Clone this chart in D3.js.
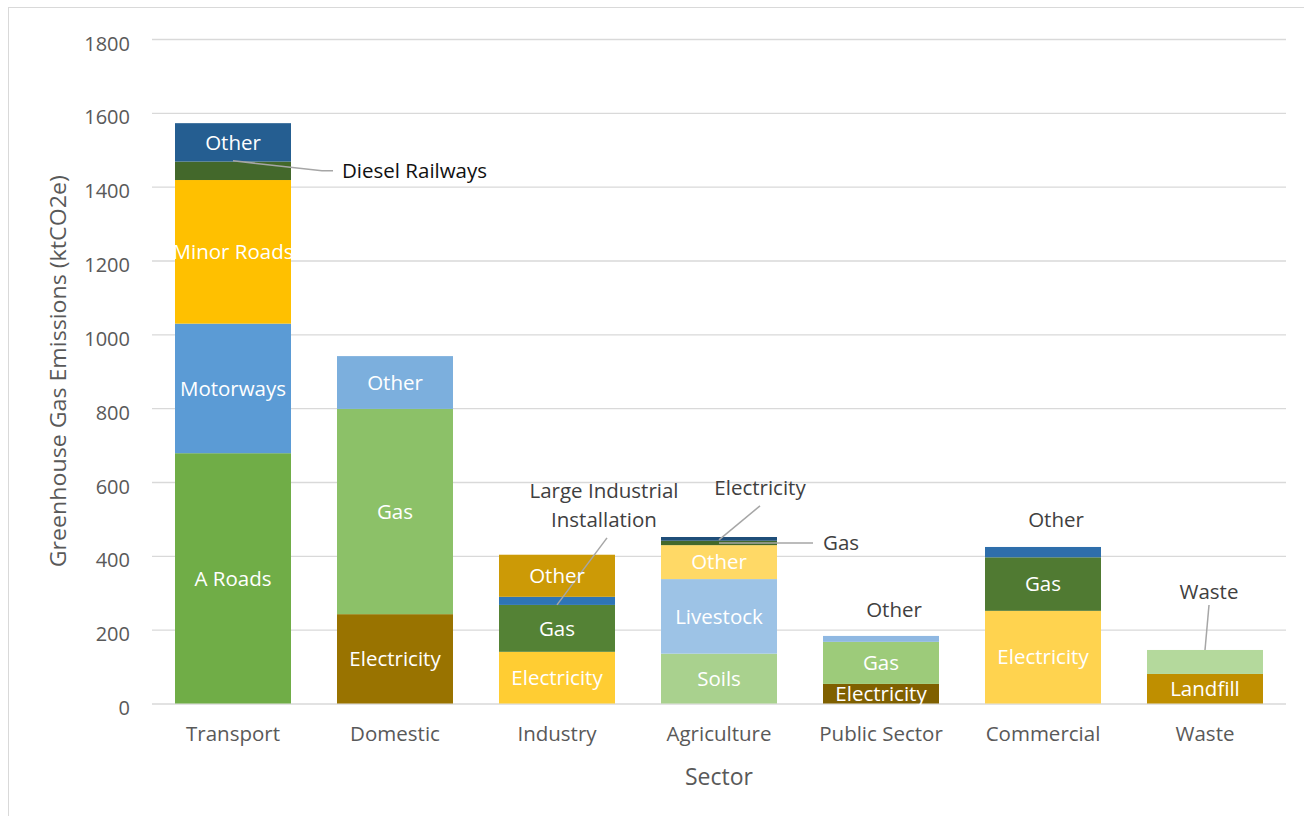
<!DOCTYPE html>
<html lang="en">
<head>
<meta charset="utf-8">
<title>Greenhouse Gas Emissions by Sector</title>
<script src="https://d3js.org/d3.v7.min.js"></script>
<style>
  body { margin: 0; background: #fff; }
  svg { display: block; }
  text { font-family: "Open Sans", sans-serif; }
</style>
</head>
<body>
<svg id="chart" width="1304" height="816"></svg>
<script>
// ---- data ----
const sectors = ["Transport", "Domestic", "Industry", "Agriculture", "Public Sector", "Commercial", "Waste"];

const transportParts = ["A Roads", "Motorways", "Minor Roads", "Diesel Railways", "Other"];
const transportValues = [678, 351, 389, 50, 104];

const domesticParts = ["Electricity", "Gas", "Other"];
const domesticValues = [242, 556, 143];

const industryParts = ["Electricity", "Gas", "Large Industrial Installation", "Other"];
const industryValues = [140, 127, 22, 114];

const agricultureParts = ["Soils", "Livestock", "Other", "Gas", "Electricity"];
const agricultureValues = [135, 202, 92, 12, 10];

const publicParts = ["Electricity", "Gas", "Other"];
const publicValues = [53, 114, 16];

const commercialParts = ["Electricity", "Gas", "Other"];
const commercialValues = [251, 145, 28];

const wasteParts = ["Landfill", "Waste"];
const wasteValues = [80, 65];

const yTicks = [0, 200, 400, 600, 800, 1000, 1200, 1400, 1600, 1800];

// ---- styles ----
const partColors = {
  "Transport":     ["#70ad47", "#5b9bd5", "#ffc000", "#43682b", "#255e91"],
  "Domestic":      ["#997300", "#8cc168", "#7cafdd"],
  "Industry":      ["#ffcd33", "#548235", "#2e75b6", "#cc9a06"],
  "Agriculture":   ["#a9d18e", "#9dc3e6", "#ffd966", "#43682b", "#1f4e79"],
  "Public Sector": ["#7f6000", "#9dcb7a", "#8fb8e2"],
  "Commercial":    ["#ffd34f", "#507a32", "#2e6eab"],
  "Waste":         ["#bf8f00", "#b4d99c"]
};

const stacks = [
  [transportParts, transportValues],
  [domesticParts, domesticValues],
  [industryParts, industryValues],
  [agricultureParts, agricultureValues],
  [publicParts, publicValues],
  [commercialParts, commercialValues],
  [wasteParts, wasteValues]
];

// segments too thin get an outside callout instead of an inside label
// dx/dy = offset of the first text line from the segment centre
const calloutParts = {
  "Transport|Diesel Railways": {lines: ["Diesel Railways"], dx: 109, dy: 0, anchor: "start", fill: "#111", path: [[0, -10], [89, 0], [100, 0]]},
  "Industry|Large Industrial Installation": {lines: ["Large Industrial", "Installation"], dx: 47, dy: -110, anchor: "middle", path: [[0, 4], [50, -63]]},
  "Agriculture|Electricity": {lines: ["Electricity"], dx: 41, dy: -51, anchor: "middle", path: [[0, 1], [41, -33]]},
  "Agriculture|Gas": {lines: ["Gas"], dx: 104, dy: 0, anchor: "start", path: [[0, 0], [94, 0]]},
  "Public Sector|Other": {lines: ["Other"], dx: 13, dy: -29, anchor: "middle"},
  "Commercial|Other": {lines: ["Other"], dx: 13, dy: -32, anchor: "middle"},
  "Waste|Waste": {lines: ["Waste"], dx: 4, dy: -70, anchor: "middle", path: [[0, -12], [4, -57]]}
};

const svg = d3.select("#chart");

// outer chart border
svg.append("rect")
  .attr("x", 8.5).attr("y", 7.5)
  .attr("width", 1310).attr("height", 820)
  .attr("fill", "none").attr("stroke", "#d9d9d9");

const plotLeft = 152, plotRight = 1286, plotTop = 39, plotBottom = 703.5;

const x = d3.scaleBand()
  .domain(sectors)
  .range([plotLeft, plotRight])
  .paddingInner(0.284)
  .paddingOuter(0.142);

const y = d3.scaleLinear()
  .domain([0, 1800])
  .range([plotBottom, plotTop]);

// gridlines + y tick labels
const yAxis = d3.axisLeft(y)
  .tickValues(yTicks)
  .tickFormat(d3.format("d"))
  .tickSize(-(plotRight - plotLeft))
  .tickPadding(22);
const gy = svg.append("g").attr("transform", `translate(${plotLeft},0)`).call(yAxis);
gy.select(".domain").remove();
gy.attr("font-family", null).attr("font-size", null);
gy.selectAll(".tick line").attr("stroke", "#d9d9d9").attr("stroke-width", 1.3);
gy.selectAll(".tick text")
  .attr("fill", "#595959")
  .attr("dy", "0.55em")
  .style("font-size", "20px");

// x category labels
const xAxis = d3.axisBottom(x).tickSize(0).tickPadding(23);
const gx = svg.append("g").attr("transform", `translate(0,${plotBottom})`).call(xAxis);
gx.select(".domain").remove();
gx.attr("font-family", null).attr("font-size", null);
gx.selectAll(".tick text")
  .attr("fill", "#595959")
  .style("font-size", "20.5px");

// stacked bars
sectors.forEach((sector, i) => {
  const [parts, values] = stacks[i];
  const colors = partColors[sector];
  let acc = 0;
  const segs = parts.map((p, j) => {
    const s = {sector, part: p, y0: acc, y1: acc + values[j], color: colors[j]};
    acc += values[j];
    return s;
  });

  const g = svg.append("g");
  g.selectAll("rect")
    .data(segs)
    .join("rect")
    .attr("x", x(sector))
    .attr("width", x.bandwidth())
    .attr("y", d => y(d.y1))
    .attr("height", d => y(d.y0) - y(d.y1))
    .attr("fill", d => d.color);

  const cx = x(sector) + x.bandwidth() / 2;

  segs.forEach(d => {
    const key = sector + "|" + d.part;
    const cy = (y(d.y0) + y(d.y1)) / 2;
    const c = calloutParts[key];
    if (!c) {
      g.append("text")
        .attr("x", cx)
        .attr("y", cy)
        .attr("dy", "0.35em")
        .attr("text-anchor", "middle")
        .attr("fill", "#fff")
        .style("font-size", "20.5px")
        .text(d.part);
      return;
    }
    if (c.path) {
      g.append("path")
        .attr("d", d3.line()(c.path.map(p => [cx + p[0], cy + p[1]])))
        .attr("fill", "none")
        .attr("stroke", "#a6a6a6")
        .attr("stroke-width", 1.5);
    }
    const t = g.append("text")
      .attr("x", cx + c.dx)
      .attr("y", cy + c.dy)
      .attr("text-anchor", c.anchor)
      .attr("fill", c.fill || "#404040")
      .style("font-size", "20.5px");
    c.lines.forEach((ln, k) => {
      t.append("tspan")
        .attr("x", cx + c.dx)
        .attr("dy", k === 0 ? "0.35em" : "29px")
        .text(ln);
    });
  });
});

// axis titles
svg.append("text")
  .attr("transform", `translate(66,${(plotTop + plotBottom) / 2}) rotate(-90)`)
  .attr("text-anchor", "middle")
  .attr("fill", "#595959")
  .style("font-size", "21px")
  .attr("textLength", 392)
  .attr("lengthAdjust", "spacingAndGlyphs")
  .text("Greenhouse Gas Emissions (ktCO2e)");

svg.append("text")
  .attr("x", (plotLeft + plotRight) / 2)
  .attr("y", 777)
  .attr("dy", "0.35em")
  .attr("text-anchor", "middle")
  .attr("fill", "#595959")
  .style("font-size", "23px")
  .text("Sector");
</script>
</body>
</html>
